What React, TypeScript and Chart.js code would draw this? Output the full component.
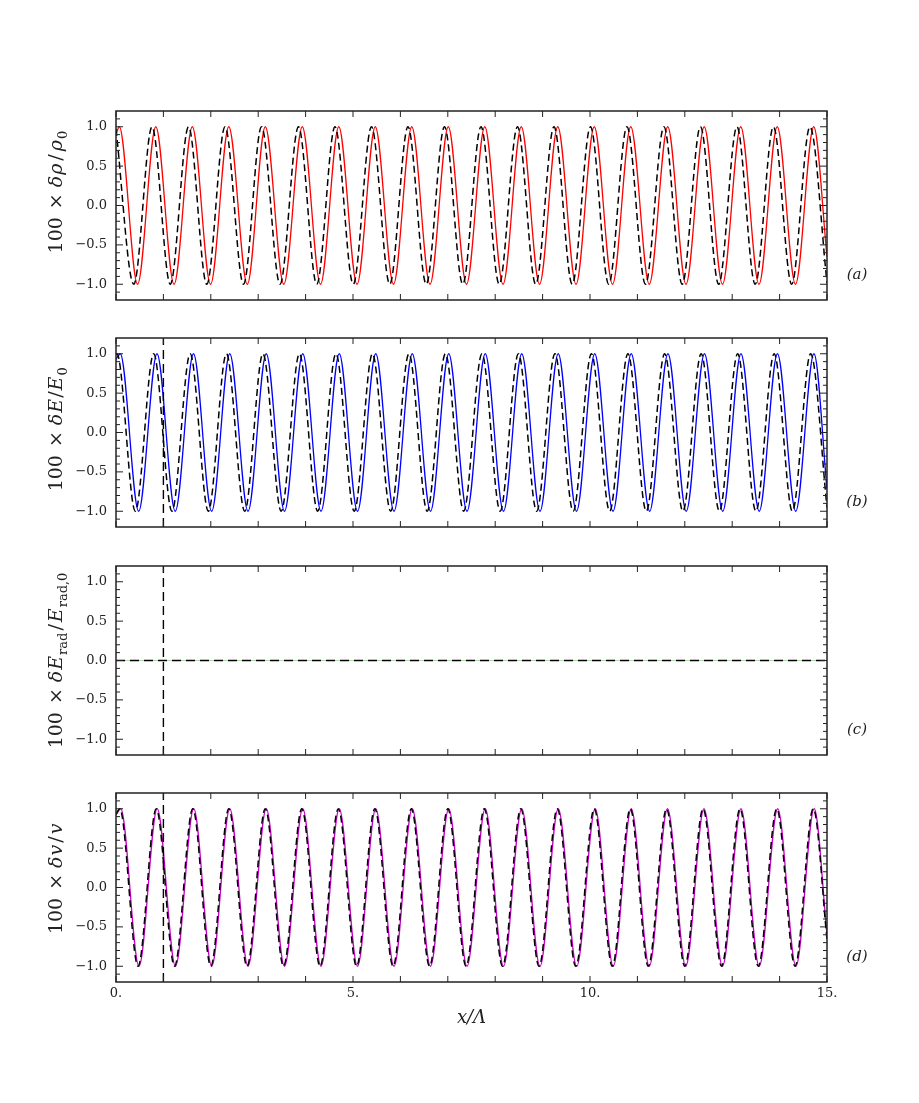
import React, { useEffect, useRef } from "react";
import { Chart, registerables } from "chart.js";

Chart.register(...registerables);

// ---------- tick values ----------
const xMajorTicks = [0, 1, 2, 3, 4, 5, 6, 7, 8, 9, 10, 11, 12, 13, 14, 15];
const xLabelTicks = [0, 5, 10, 15];
const yLabelTicks = [-1, -0.5, 0, 0.5, 1];
const yMinorTicks = [-1.1, -0.9, -0.8, -0.7, -0.6, -0.4, -0.3, -0.2, -0.1, 0.1, 0.2, 0.3, 0.4, 0.6, 0.7, 0.8, 0.9, 1.1];

// ---------- panel (a): density (extrema) ----------
const rhoX = [0, 0.07, 0.455, 0.84, 1.225, 1.61, 1.995, 2.38, 2.77, 3.15, 3.54, 3.93, 4.315, 4.7, 5.085, 5.47, 5.855, 6.24, 6.625, 7.01, 7.395, 7.78, 8.165, 8.55, 8.935, 9.32, 9.705, 10.09, 10.475, 10.86, 11.25, 11.64, 12.025, 12.41, 12.795, 13.18, 13.565, 13.95, 14.335, 14.72, 15];
const rhoY = [0.9, 1, -1, 1, -1, 1, -1, 1, -1, 1, -1, 1, -1, 1, -1, 1, -1, 1, -1, 1, -1, 1, -1, 1, -1, 1, -1, 1, -1, 1, -1, 1, -1, 1, -1, 1, -1, 1, -1, 1, -0.65];
const rhoRefX = [0, 0.375, 0.76, 1.145, 1.53, 1.915, 2.3, 2.69, 3.07, 3.46, 3.85, 4.235, 4.62, 5.005, 5.39, 5.775, 6.16, 6.545, 6.93, 7.315, 7.7, 8.085, 8.47, 8.855, 9.24, 9.625, 10.01, 10.395, 10.78, 11.17, 11.56, 11.945, 12.33, 12.715, 13.1, 13.485, 13.87, 14.255, 14.64, 15];
const rhoRefY = [0.97, -1, 1, -1, 1, -1, 1, -1, 1, -1, 1, -1, 1, -1, 1, -1, 1, -1, 1, -1, 1, -1, 1, -1, 1, -1, 1, -1, 1, -1, 1, -1, 1, -1, 1, -1, 1, -1, 1, -0.98];

// ---------- panel (b): energy ----------
const eX = [0, 0.09, 0.478, 0.865, 1.25, 1.635, 2.018, 2.4, 2.785, 3.17, 3.555, 3.94, 4.325, 4.71, 5.095, 5.48, 5.865, 6.25, 6.635, 7.02, 7.405, 7.79, 8.175, 8.56, 8.945, 9.33, 9.715, 10.1, 10.485, 10.87, 11.258, 11.645, 12.03, 12.415, 12.8, 13.185, 13.57, 13.955, 14.34, 14.725, 15];
const eY = [0.93, 1, -1, 1, -1, 1, -1, 1, -1, 1, -1, 1, -1, 1, -1, 1, -1, 1, -1, 1, -1, 1, -1, 1, -1, 1, -1, 1, -1, 1, -1, 1, -1, 1, -1, 1, -1, 1, -1, 1, -0.72];
const eRefX = [0, 0.02, 0.408, 0.795, 1.18, 1.565, 1.948, 2.33, 2.715, 3.1, 3.485, 3.87, 4.255, 4.64, 5.025, 5.41, 5.795, 6.18, 6.565, 6.95, 7.335, 7.72, 8.105, 8.49, 8.875, 9.26, 9.645, 10.03, 10.415, 10.8, 11.188, 11.575, 11.96, 12.345, 12.73, 13.115, 13.5, 13.885, 14.27, 14.655, 15];
const eRefY = [0.99, 1, -1, 1, -1, 1, -1, 1, -1, 1, -1, 1, -1, 1, -1, 1, -1, 1, -1, 1, -1, 1, -1, 1, -1, 1, -1, 1, -1, 1, -1, 1, -1, 1, -1, 1, -1, 1, -1, 1, -0.95];

// ---------- panel (c): radiation energy ----------
const radX = [0, 15];
const radY = [0, 0];
const radRefX = [0, 15];
const radRefY = [0, 0];

// ---------- panel (d): velocity ----------
const vX = [0, 0.1, 0.485, 0.87, 1.255, 1.64, 2.02, 2.4, 2.785, 3.17, 3.555, 3.94, 4.325, 4.71, 5.095, 5.48, 5.865, 6.25, 6.635, 7.02, 7.405, 7.79, 8.175, 8.56, 8.945, 9.33, 9.72, 10.11, 10.49, 10.87, 11.25, 11.635, 12.02, 12.405, 12.795, 13.185, 13.57, 13.96, 14.345, 14.73, 15];
const vY = [0.92, 1, -1, 1, -1, 1, -1, 1, -1, 1, -1, 1, -1, 1, -1, 1, -1, 1, -1, 1, -1, 1, -1, 1, -1, 1, -1, 1, -1, 1, -1, 1, -1, 1, -1, 1, -1, 1, -1, 1, -0.6];
const vRefX = [0, 0.08, 0.465, 0.85, 1.235, 1.62, 2.0, 2.38, 2.765, 3.15, 3.535, 3.92, 4.305, 4.69, 5.075, 5.46, 5.845, 6.23, 6.615, 7.0, 7.385, 7.77, 8.155, 8.54, 8.925, 9.31, 9.7, 10.09, 10.47, 10.85, 11.23, 11.615, 12.0, 12.385, 12.775, 13.165, 13.55, 13.94, 14.325, 14.71, 15];
const vRefY = [0.93, 1, -1, 1, -1, 1, -1, 1, -1, 1, -1, 1, -1, 1, -1, 1, -1, 1, -1, 1, -1, 1, -1, 1, -1, 1, -1, 1, -1, 1, -1, 1, -1, 1, -1, 1, -1, 1, -1, 1, -0.66];

// ---------- vertical marker at x = 1 ----------
const markerX = [1, 1];
const markerY = [-1.2, 1.2];

// ---------- layout ----------
const W = 919;
const PLOT_LEFT = 116;
const PLOT_RIGHT = 827;
const PLOT_H = 189;
const PAD = 20;
const FONT = '"DejaVu Serif", "Liberation Serif", serif';
const TEXT = "#222";
const LABEL_SIZE = 19;

type Seg = { t: string; it?: boolean; sub?: boolean; g?: number };

const pts = (xs: number[], ys: number[]) => xs.map((x, i) => ({ x, y: ys[i] }));

const wave = (xs: number[], ys: number[], color: string, dashed: boolean) => ({
  data: pts(xs, ys),
  borderColor: color,
  borderWidth: dashed ? 1.5 : 1.3,
  borderDash: dashed ? [7, 4] : [],
  pointRadius: 0,
  fill: false,
  cubicInterpolationMode: "monotone",
});

const straight = (xs: number[], ys: number[], color: string, dashed: boolean, width = 1.4) => ({
  data: pts(xs, ys),
  borderColor: color,
  borderWidth: width,
  borderDash: dashed ? [9, 5] : [],
  pointRadius: 0,
  fill: false,
  tension: 0,
});

const fmtY = (v: number) => (v < 0 ? "\u2212" : "") + Math.abs(v).toFixed(1);

function drawLabel(ctx: CanvasRenderingContext2D, segs: Seg[], cx: number, cy: number, size: number) {
  ctx.save();
  ctx.translate(cx, cy);
  ctx.rotate(-Math.PI / 2);
  ctx.textAlign = "left";
  ctx.textBaseline = "alphabetic";
  ctx.fillStyle = TEXT;
  const fontFor = (s: Seg) => `${s.it ? "italic " : ""}${s.sub ? Math.round(size * 0.68) : size}px ${FONT}`;
  let total = 0;
  for (const s of segs) {
    ctx.font = fontFor(s);
    total += ctx.measureText(s.t).width + (s.g || 0);
  }
  let x = -total / 2;
  const base = size * 0.35;
  for (const s of segs) {
    ctx.font = fontFor(s);
    ctx.fillText(s.t, x, base + (s.sub ? size * 0.28 : 0));
    x += ctx.measureText(s.t).width + (s.g || 0);
  }
  ctx.restore();
}

function makeDeco(label: Seg[], labelCenter: number, tag: string) {
  return {
    id: "deco",
    afterDatasetsDraw(chart: any) {
      const { ctx, chartArea: a, scales } = chart;
      const xs = scales.x;
      const ys = scales.y;
      ctx.save();
      ctx.strokeStyle = "#222";
      ctx.lineWidth = 1;
      const line = (x1: number, y1: number, x2: number, y2: number) => {
        ctx.beginPath();
        ctx.moveTo(x1, y1);
        ctx.lineTo(x2, y2);
        ctx.stroke();
      };
      for (const v of xMajorTicks) {
        const px = xs.getPixelForValue(v);
        line(px, a.bottom, px, a.bottom - 6);
        line(px, a.top, px, a.top + 6);
      }
      for (const v of yLabelTicks) {
        const py = ys.getPixelForValue(v);
        line(a.left, py, a.left + 7, py);
        line(a.right, py, a.right - 7, py);
      }
      for (const v of yMinorTicks) {
        const py = ys.getPixelForValue(v);
        line(a.left, py, a.left + 4, py);
        line(a.right, py, a.right - 4, py);
      }
      ctx.lineWidth = 1.5;
      ctx.strokeRect(a.left, a.top, a.right - a.left, a.bottom - a.top);
      drawLabel(ctx, label, 55, ys.getPixelForValue(labelCenter), LABEL_SIZE);
      ctx.font = `italic 15px ${FONT}`;
      ctx.fillStyle = TEXT;
      ctx.textAlign = "center";
      ctx.textBaseline = "middle";
      ctx.fillText(tag, a.right + 30, ys.getPixelForValue(-0.88));
      ctx.restore();
    },
  };
}

type PanelCfg = {
  top: number;
  datasets: any[];
  label: Seg[];
  labelCenter: number;
  tag: string;
  bottom: boolean;
};

const panels: PanelCfg[] = [
  {
    top: 111,
    datasets: [wave(rhoRefX, rhoRefY, "#000", true), wave(rhoX, rhoY, "#ff0000", false)],
    label: [
      { t: "100", g: 8 },
      { t: "\u00d7", g: 6 },
      { t: "\u03b4", it: true, g: 1 },
      { t: "\u03c1", it: true, g: 3 },
      { t: "/", g: 3 },
      { t: "\u03c1", it: true, g: 1 },
      { t: "0", sub: true },
    ],
    labelCenter: 0.17,
    tag: "(a)",
    bottom: false,
  },
  {
    top: 338,
    datasets: [
      straight(markerX, markerY, "#000", true),
      wave(eRefX, eRefY, "#000", true),
      wave(eX, eY, "#0000ff", false),
    ],
    label: [
      { t: "100", g: 8 },
      { t: "\u00d7", g: 6 },
      { t: "\u03b4", it: true, g: 1 },
      { t: "E", it: true, g: 1 },
      { t: "/", g: 1 },
      { t: "E", it: true, g: 1 },
      { t: "0", sub: true },
    ],
    labelCenter: 0.04,
    tag: "(b)",
    bottom: false,
  },
  {
    top: 566,
    datasets: [
      straight(markerX, markerY, "#000", true),
      straight(radRefX, radRefY, "#000", true),
      straight(radX, radY, "#a8dca8", false, 1.2),
    ],
    label: [
      { t: "100", g: 8 },
      { t: "\u00d7", g: 6 },
      { t: "\u03b4", it: true, g: 1 },
      { t: "E", it: true, g: 1 },
      { t: "rad", sub: true, g: 2 },
      { t: "/", g: 2 },
      { t: "E", it: true, g: 1 },
      { t: "rad,0", sub: true },
    ],
    labelCenter: 0,
    tag: "(c)",
    bottom: false,
  },
  {
    top: 793,
    datasets: [
      straight(markerX, markerY, "#000", true),
      wave(vRefX, vRefY, "#000", true),
      wave(vX, vY, "#c800c8", false),
    ],
    label: [
      { t: "100", g: 8 },
      { t: "\u00d7", g: 6 },
      { t: "\u03b4", it: true, g: 1 },
      { t: "v", it: true, g: 2 },
      { t: "/", g: 2 },
      { t: "v", it: true },
    ],
    labelCenter: 0.11,
    tag: "(d)",
    bottom: true,
  },
];

const X_AXIS_H = 50;

function Panel({ cfg }: { cfg: PanelCfg }) {
  const ref = useRef<HTMLCanvasElement>(null);
  const height = PAD + PLOT_H + (cfg.bottom ? X_AXIS_H + 10 : PAD);
  useEffect(() => {
    const xScale: any = cfg.bottom
      ? {
          type: "linear",
          min: 0,
          max: 15,
          afterBuildTicks: (s: any) => {
            s.ticks = xLabelTicks.map((v) => ({ value: v }));
          },
          afterFit: (s: any) => {
            s.height = X_AXIS_H;
          },
          ticks: {
            callback: (v: number) => v + ".",
            font: { family: FONT, size: 13 },
            color: TEXT,
            padding: 4,
            maxRotation: 0,
            autoSkip: false,
          },
          grid: { display: false, drawTicks: false },
          border: { display: false },
          title: {
            display: true,
            text: "x/\u039b",
            font: { family: FONT, size: 18, style: "italic" },
            color: TEXT,
            padding: { top: 0, bottom: 3 },
          },
        }
      : { type: "linear", min: 0, max: 15, display: false };
    const chart = new Chart(ref.current as HTMLCanvasElement, {
      type: "line",
      data: { datasets: cfg.datasets },
      options: {
        responsive: false,
        animation: false,
        events: [],
        layout: {
          padding: {
            left: 0,
            right: W - PLOT_RIGHT,
            top: PAD,
            bottom: cfg.bottom ? 10 : PAD,
          },
        },
        scales: {
          x: xScale,
          y: {
            type: "linear",
            min: -1.2,
            max: 1.2,
            position: "left",
            afterBuildTicks: (s: any) => {
              s.ticks = yLabelTicks.map((v) => ({ value: v }));
            },
            afterFit: (s: any) => {
              s.width = PLOT_LEFT;
            },
            ticks: {
              callback: (v: number) => fmtY(v),
              font: { family: FONT, size: 13 },
              color: TEXT,
              padding: 9,
            },
            grid: { display: false, drawTicks: false },
            border: { display: false },
          },
        },
        plugins: {
          legend: { display: false },
          tooltip: { enabled: false },
        },
      } as any,
      plugins: [makeDeco(cfg.label, cfg.labelCenter, cfg.tag)],
    } as any);
    return () => chart.destroy();
  }, []);
  return (
    <canvas
      ref={ref}
      width={W}
      height={height}
      style={{ position: "absolute", left: 0, top: cfg.top - PAD, width: W, height }}
    />
  );
}

export default function App() {
  return (
    <div style={{ position: "absolute", left: 0, top: 0, width: W, height: 1103, background: "#fff" }}>
      {panels.map((p, i) => (
        <Panel key={i} cfg={p} />
      ))}
    </div>
  );
}
